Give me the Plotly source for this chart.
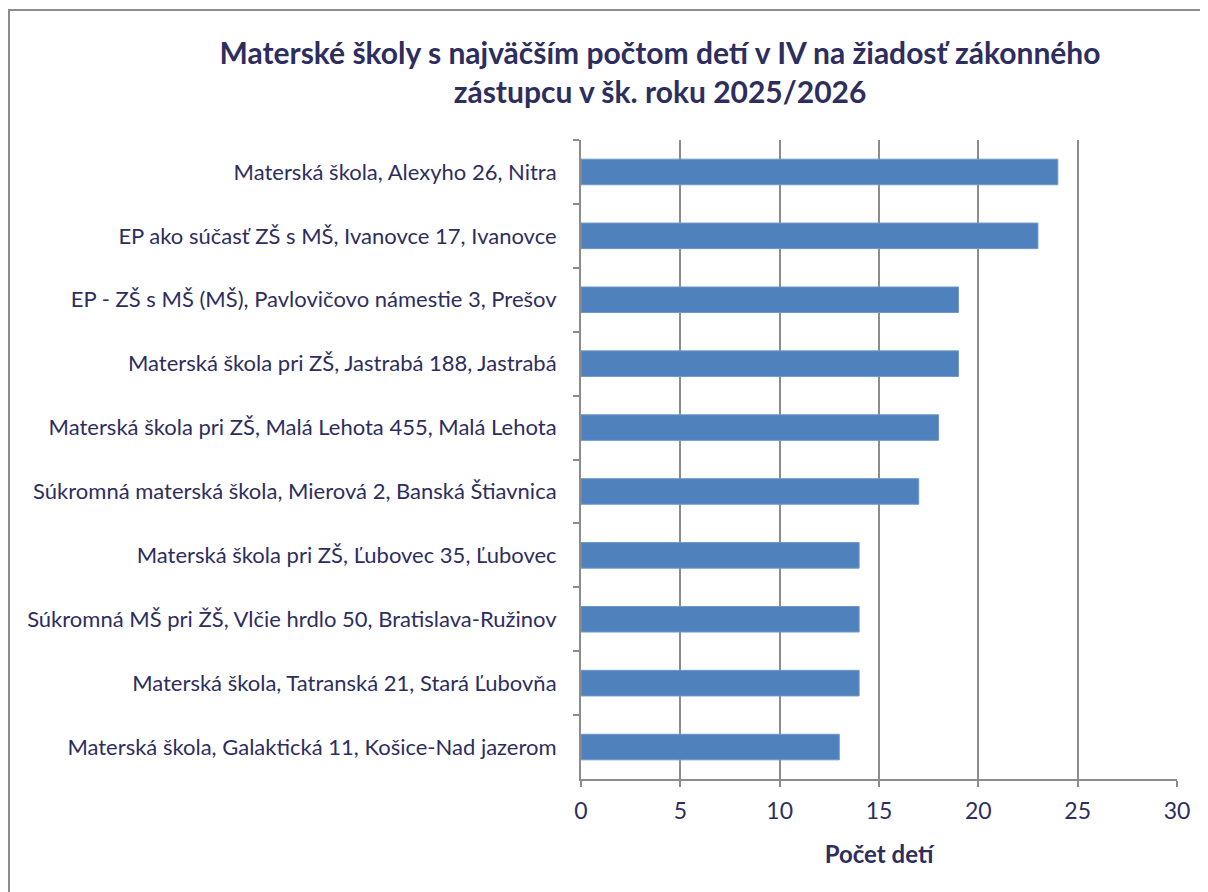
import plotly.graph_objects as go

categories = [
    "Materská škola, Alexyho 26, Nitra",
    "EP ako súčasť ZŠ s MŠ, Ivanovce 17, Ivanovce",
    "EP - ZŠ s MŠ (MŠ), Pavlovičovo námestie 3, Prešov",
    "Materská škola pri ZŠ, Jastrabá 188, Jastrabá",
    "Materská škola pri ZŠ, Malá Lehota 455, Malá Lehota",
    "Súkromná materská škola, Mierová 2, Banská Štiavnica",
    "Materská škola pri ZŠ, Ľubovec 35, Ľubovec",
    "Súkromná MŠ pri ŽŠ, Vlčie hrdlo 50, Bratislava-Ružinov",
    "Materská škola, Tatranská 21, Stará Ľubovňa",
    "Materská škola, Galaktická 11, Košice-Nad jazerom",
]
values = [24, 23, 19, 19, 18, 17, 14, 14, 14, 13]
x_ticks = [0, 5, 10, 15, 20, 25, 30]

title_text = "Materské školy s najväčším počtom detí v IV na žiadosť zákonného<br>zástupcu v šk. roku 2025/2026"
x_title = "Počet detí"

TXT = "#2E2E5E"
GRID = "#8C8C8C"
FONT = "Lato, 'Open Sans', sans-serif"

OFF = 8  # page body margin
W, H = 1200, 884
L, R, T, B = 573, 31, 132, 113

fig = go.Figure(go.Bar(
    x=values, y=categories, orientation="h",
    marker=dict(color="#4F81BD", line=dict(color="#6E98CC", width=1)),
    width=0.4,
))

pw = W - L - R
ph = H - T - B
def px_x(p):
    return (p - OFF - L) / pw
def px_y(p):
    return (H - B - (p - OFF)) / ph

fig.update_layout(
    width=W, height=H,
    margin=dict(l=L, r=R, t=T, b=B),
    plot_bgcolor="white", paper_bgcolor="white",
    showlegend=False,
    font=dict(family=FONT, color=TXT, size=22),
    title=dict(text="<b>" + title_text + "</b>", x=(660 - OFF) / W, xanchor="center",
               y=1 - (64 - OFF) / H, yanchor="middle",
               font=dict(size=30, color=TXT, family=FONT)),
    xaxis=dict(range=[0, 30], tickvals=x_ticks, showgrid=True, gridcolor=GRID, gridwidth=2,
               showline=True, linecolor=GRID, linewidth=2, ticks="outside", ticklen=6,
               tickcolor=GRID, tickwidth=2, zeroline=False, ticklabelstandoff=4,
               tickfont=dict(size=23, color=TXT),
               title=dict(text="<b>" + x_title + "</b>", font=dict(size=24, color=TXT), standoff=24)),
    yaxis=dict(autorange="reversed", showline=True, linecolor=GRID, linewidth=2,
               ticks="outside", ticklen=6, tickcolor=GRID, tickwidth=2, tickson="boundaries",
               showgrid=False, ticklabelstandoff=18,
               tickfont=dict(size=22, color=TXT)),
    shapes=[
        dict(type="line", xref="paper", yref="paper", x0=px_x(8), x1=px_x(1230),
             y0=px_y(10), y1=px_y(10), line=dict(color="#8C8C8C", width=2)),
        dict(type="line", xref="paper", yref="paper", x0=px_x(9), x1=px_x(9),
             y0=px_y(10), y1=px_y(910), line=dict(color="#8C8C8C", width=2)),
    ],
)

fig.write_html("out.html")
